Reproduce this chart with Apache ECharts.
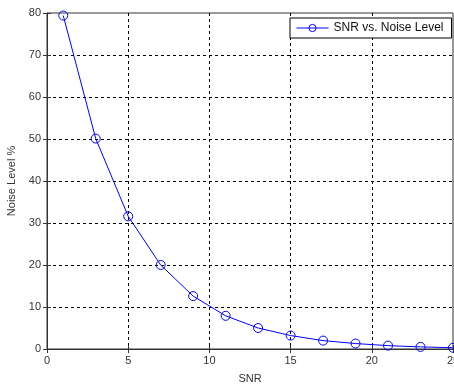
<!DOCTYPE html>
<html><head><meta charset="utf-8">
<script src="https://cdn.jsdelivr.net/npm/echarts@6/dist/echarts.min.js"></script>
<style>html,body{margin:0;padding:0;background:#fff}#c{width:454px;height:386px}</style>
</head><body><div id="c"></div>
<script>
const snr = [1, 3, 5, 7, 9, 11, 13, 15, 17, 19, 21, 23, 25];
const noiseLevel = [79.4, 50.1, 31.6, 20.0, 12.6, 7.9, 5.0, 3.2, 2.0, 1.3, 0.8, 0.5, 0.3];
const seriesName = 'SNR vs. Noise Level';
const xTicks = [0, 5, 10, 15, 20, 25];
const yTicks = [0, 10, 20, 30, 40, 50, 60, 70, 80];

const chart = echarts.init(document.getElementById('c'));
const font = 'Liberation Sans, Arial, sans-serif';
const axisCommon = {
  axisLine: { lineStyle: { color: '#333', width: 1 } },
  axisTick: { inside: true, length: 4, lineStyle: { color: '#333' } },
  axisLabel: { color: '#333', fontSize: 11, fontFamily: font },
  splitLine: { show: true, showMinLine: false, showMaxLine: false, lineStyle: { color: '#000', type: [3, 3], width: 1 } }
};
chart.setOption({
  animation: false,
  grid: { left: 47, top: 13, right: 1, bottom: 37, show: true, borderColor: '#333', borderWidth: 1, outerBoundsMode: 'none', containLabel: false },
  legend: {
    data: [seriesName], left: 290, top: 18, width: 157,
    padding: [4, 8, 4, 6], itemWidth: 32, itemHeight: 9, itemGap: 4,
    backgroundColor: '#fff', borderColor: '#000', borderWidth: 1, borderRadius: 0,
    itemStyle: { color: 'rgba(0,0,0,0)', borderColor: '#0000ff', borderWidth: 1 },
    lineStyle: { width: 1 },
    textStyle: { color: '#111', fontSize: 12, fontFamily: font }
  },
  xAxis: [{
    type: 'value', min: 0, max: 25, interval: 5,
    name: 'SNR', nameLocation: 'middle', nameGap: 24,
    nameTextStyle: { color: '#333', fontSize: 11, fontFamily: font },
    ...axisCommon,
    axisLabel: { ...axisCommon.axisLabel, margin: 6, showMaxLabel: true, hideOverlap: false }
  }, {
    type: 'value', min: 0, max: 25, interval: 5, position: 'top',
    axisLine: { show: false }, axisTick: { inside: true, length: 4, lineStyle: { color: '#333' } },
    axisLabel: { show: false }, splitLine: { show: false }
  }],
  yAxis: [{
    type: 'value', min: 0, max: 80, interval: 10,
    name: 'Noise Level %', nameLocation: 'middle', nameGap: 28, nameRotate: 90,
    nameTextStyle: { color: '#333', fontSize: 11, fontFamily: font },
    ...axisCommon,
    axisLabel: { ...axisCommon.axisLabel, margin: 6 }
  }, {
    type: 'value', min: 0, max: 80, interval: 10, position: 'right',
    axisLine: { show: false }, axisTick: { inside: true, length: 4, lineStyle: { color: '#333' } },
    axisLabel: { show: false }, splitLine: { show: false }
  }],
  series: [{
    name: seriesName, type: 'line', smooth: false,
    data: snr.map((x, i) => [x, noiseLevel[i]]),
    symbol: 'circle', symbolSize: 9, showAllSymbol: true,
    lineStyle: { color: '#0000ff', width: 1 },
    itemStyle: { color: 'rgba(0,0,0,0)', borderColor: '#0000ff', borderWidth: 1 },
    clip: false
  }]
});
</script></body></html>
